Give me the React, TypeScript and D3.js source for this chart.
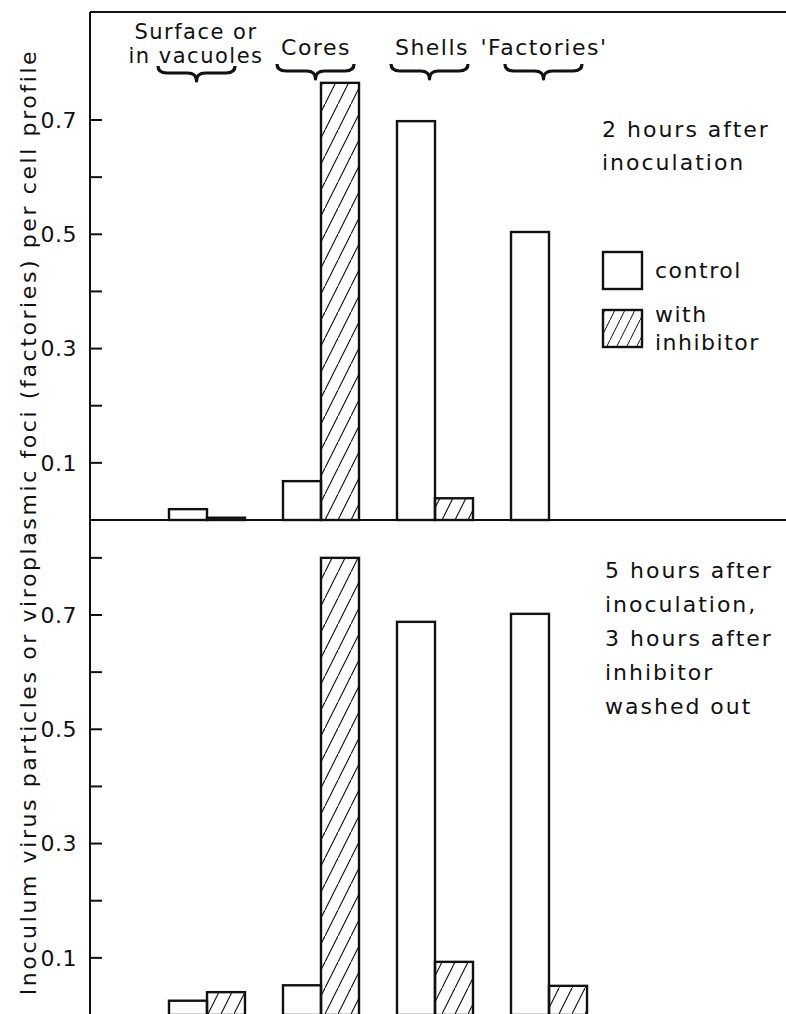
import React from "react";
import * as d3 from "d3";

const categories = ["Surface or in vacuoles", "Cores", "Shells", "'Factories'"];
const categoryLines = [["Surface or", "in vacuoles"], ["Cores"], ["Shells"], ["'Factories'"]];
const control2h = [0.019, 0.068, 0.698, 0.504];
const inhibitor2h = [0.004, 0.765, 0.038, 0];
const control5h = [0.025, 0.052, 0.688, 0.702];
const inhibitor5h = [0.04, 0.8, 0.093, 0.051];
const tickValues = [0.1, 0.2, 0.3, 0.4, 0.5, 0.6, 0.7];
const tickValuesBottom = [0.1, 0.2, 0.3, 0.4, 0.5, 0.6, 0.7, 0.8];
const labeledTicks = [0.1, 0.3, 0.5, 0.7];
const seriesNames = ["control", "with inhibitor"];
const note2h = ["2 hours after", "inoculation"];
const note5h = ["5 hours after", "inoculation,", "3 hours after", "inhibitor", "washed out"];
const yTitle = "Inoculum virus particles or viroplasmic foci (factories) per cell profile";

const W = 786;
const H = 1014;
const FONT = "'DejaVu Sans', sans-serif";

export default function App() {
  const axisX = 90;
  const x = d3.scaleBand<string>().domain(categories).range([169, 587]).paddingInner(1 / 3).paddingOuter(0);
  const bw = x.bandwidth() / 2;
  const yTop = d3.scaleLinear().domain([0, 0.7]).range([520, 120]);
  const yBot = d3.scaleLinear().domain([0, 0.7]).range([1015, 615]);

  const panels = [
    { y: yTop, ctrl: control2h, inh: inhibitor2h, ticks: tickValues },
    { y: yBot, ctrl: control5h, inh: inhibitor5h, ticks: tickValuesBottom },
  ];

  const brace = (x1: number, x2: number, y0: number) => {
    const m = (x1 + x2) / 2;
    const ym = y0 + 7;
    const yt = y0 + 15;
    const r = 9;
    return `M${x1},${y0} Q${x1},${ym} ${x1 + r},${ym} L${m - r},${ym} Q${m},${ym} ${m},${yt} Q${m},${ym} ${m + r},${ym} L${x2 - r},${ym} Q${x2},${ym} ${x2},${y0}`;
  };

  const textStyle = { fontFamily: FONT, fontSize: 22, letterSpacing: 1.5, fill: "#111" } as const;
  const noteStyle = { ...textStyle, letterSpacing: 2 } as const;

  return (
    <svg width={W} height={H} style={{ position: "absolute", left: 0, top: 0, background: "#fff" }}>
      <defs>
        <pattern id="hatch" patternUnits="userSpaceOnUse" width={13} height={26}>
          <line x1={0} y1={26} x2={13} y2={0} stroke="#111" strokeWidth={1.1} />
        </pattern>
        <pattern id="hatchLegend" patternUnits="userSpaceOnUse" width={10} height={20}>
          <line x1={0} y1={20} x2={10} y2={0} stroke="#111" strokeWidth={1} />
        </pattern>
      </defs>
      <rect x={0} y={0} width={W} height={H} fill="#fff" />

      {/* frame */}
      <line x1={axisX} y1={12} x2={axisX} y2={H} stroke="#111" strokeWidth={2} />
      <line x1={axisX} y1={12} x2={W} y2={12} stroke="#111" strokeWidth={2} />
      <line x1={axisX} y1={yTop(0)} x2={W} y2={yTop(0)} stroke="#111" strokeWidth={2} />
      <line x1={axisX} y1={yBot(0)} x2={W} y2={yBot(0)} stroke="#111" strokeWidth={2} />

      {panels.map((p, pi) => (
        <g key={pi}>
          {p.ticks.map((t) => (
            <line key={t} x1={axisX} x2={axisX + 12} y1={p.y(t)} y2={p.y(t)} stroke="#111" strokeWidth={2} />
          ))}
          {labeledTicks.map((t) => (
            <text key={t} x={77} y={p.y(t)} dy="0.36em" textAnchor="end" style={{ ...textStyle, letterSpacing: 0.5 }}>
              {t.toFixed(1)}
            </text>
          ))}
          {categories.map((c, i) => {
            const x0 = x(c)!;
            return (
              <g key={c}>
                {p.ctrl[i] > 0 && (
                  <rect x={x0} y={p.y(p.ctrl[i])} width={bw} height={p.y(0) - p.y(p.ctrl[i])} fill="#fff" stroke="#111" strokeWidth={2.4} />
                )}
                {p.inh[i] > 0 && (
                  <rect x={x0 + bw} y={p.y(p.inh[i])} width={bw} height={p.y(0) - p.y(p.inh[i])} fill="url(#hatch)" stroke="#111" strokeWidth={2.4} />
                )}
              </g>
            );
          })}
        </g>
      ))}

      {/* category labels and braces */}
      {categories.map((c, i) => {
        const cx = x(c)! + x.bandwidth() / 2 - 4;
        const lines = categoryLines[i];
        const off = i === 0 ? 11 : 6;
        const x1 = x(c)! - off;
        const x2 = x(c)! + x.bandwidth() - off + 1;
        return (
          <g key={c}>
            {lines.length === 2 ? (
              <>
                <text x={cx - 7} y={39} textAnchor="middle" style={{ ...textStyle, fontSize: 21 }}>{lines[0]}</text>
                <text x={cx - 7} y={63} textAnchor="middle" style={{ ...textStyle, fontSize: 21 }}>{lines[1]}</text>
              </>
            ) : (
              <text x={cx + (i === 2 ? 1 : -1)} y={55} textAnchor="middle" style={textStyle}>{lines[0]}</text>
            )}
            <path d={brace(x1, x2, i === 0 ? 66 : 64)} fill="none" stroke="#111" strokeWidth={3.2} strokeLinejoin="round" />
          </g>
        );
      })}

      {/* notes */}
      {note2h.map((s, i) => (
        <text key={s} x={602} y={137 + i * 33} style={noteStyle}>{s}</text>
      ))}
      {note5h.map((s, i) => (
        <text key={s} x={605} y={578 + i * 34} style={noteStyle}>{s}</text>
      ))}

      {/* legend */}
      <rect x={603} y={252} width={39} height={37} fill="#fff" stroke="#111" strokeWidth={2.4} />
      <text x={655} y={278} style={textStyle}>{seriesNames[0]}</text>
      <rect x={603} y={310} width={39} height={37} fill="url(#hatchLegend)" stroke="#111" strokeWidth={2.4} />
      <text x={655} y={322} style={textStyle}>{seriesNames[1].split(" ")[0]}</text>
      <text x={655} y={350} style={textStyle}>{seriesNames[1].split(" ")[1]}</text>

      {/* y title */}
      <text transform={`translate(36,522) rotate(-90)`} textAnchor="middle" style={{ ...textStyle, letterSpacing: 2.6 }}>
        {yTitle}
      </text>
    </svg>
  );
}
